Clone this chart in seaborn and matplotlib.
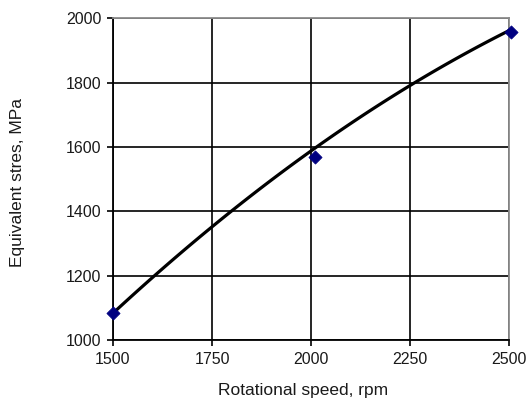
import matplotlib
matplotlib.use("Agg")
import matplotlib.pyplot as plt
import seaborn as sns
import pandas as pd

# measured points
speed = [1500, 2010, 2504]
stress = [1085, 1569, 1956]

# trend curve values
trend_speed = [1500, 1606, 1750, 1808, 2000, 2254, 2500]
trend_stress = [1088, 1200, 1350, 1400, 1593, 1800, 1958]

x_ticks = [1500, 1750, 2000, 2250, 2500]
y_ticks = [1000, 1200, 1400, 1600, 1800, 2000]

sns.set_theme(style="white")
plt.rcParams['font.family'] = ['Liberation Sans', 'DejaVu Sans']

df = pd.DataFrame({"speed": speed, "stress": stress})
trend = pd.DataFrame({"speed": trend_speed, "stress": trend_stress})

fig = plt.figure(figsize=(5.29, 4.07), dpi=100)
left, right, top, bottom = 113 / 529, 509 / 529, 1 - 18.3 / 407, 1 - 340 / 407
ax = fig.add_axes([left, bottom, right - left, top - bottom])

sns.regplot(data=trend, x="speed", y="stress", order=2, ci=None, ax=ax,
            scatter=False, truncate=True,
            line_kws=dict(color="black", lw=2.3, zorder=3))
sns.scatterplot(data=df, x="speed", y="stress", ax=ax, marker="D", s=45,
                color="#000080", edgecolor="#000080", zorder=4, clip_on=False)

ax.set_xlim(1500, 2500)
ax.set_ylim(1000, 2000)
ax.set_xticks(x_ticks)
ax.set_yticks(y_ticks)
ax.grid(True, color="black", lw=1.2)
ax.set_axisbelow(True)

for s in ["left", "bottom"]:
    ax.spines[s].set_color("black")
    ax.spines[s].set_linewidth(1.3)
for s in ["top", "right"]:
    ax.spines[s].set_color("#8c8c8c")
    ax.spines[s].set_linewidth(1.3)

ax.tick_params(axis="both", direction="out", length=4.5, width=1.2, color="black",
               labelsize=11.5, labelcolor="#1a1a1a", left=True, bottom=True, pad=4)
ax.set_xlabel("Rotational speed, rpm", fontsize=12.5, color="#1a1a1a")
ax.set_ylabel("Equivalent stres, MPa", fontsize=12.5, color="#1a1a1a")
ax.xaxis.set_label_coords(0.48, -0.135)
ax.yaxis.set_label_coords(-0.222, 0.49)

fig.savefig("out.png", dpi=100, facecolor="white")
